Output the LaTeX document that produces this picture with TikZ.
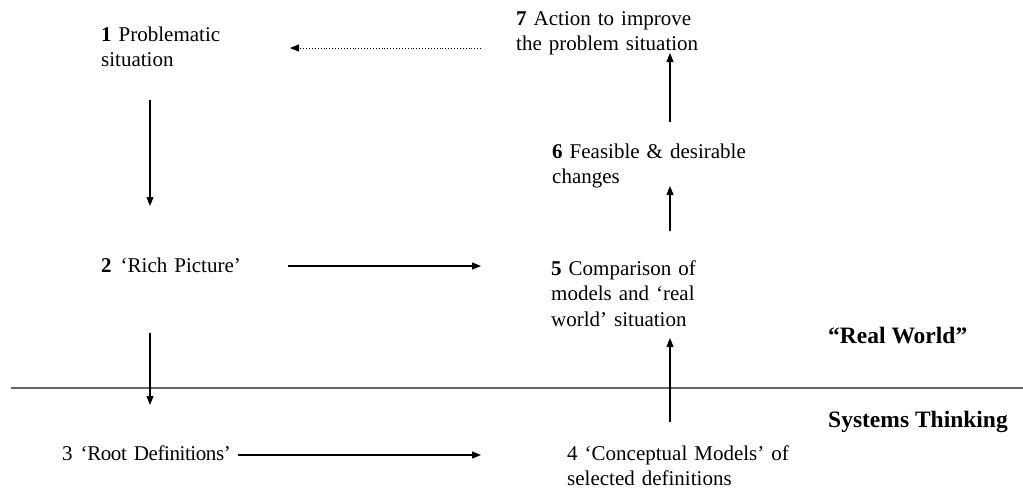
\documentclass[tikz,border=0pt]{standalone}
\usepackage{fontspec}
\setmainfont{Liberation Serif}
\usetikzlibrary{arrows.meta}
\begin{document}
\begin{tikzpicture}[x=1pt,y=-1pt,
  lbl/.style={anchor=base west,inner sep=0pt,text width=300pt,align=left,font=\fontsize{21}{25.5}\selectfont},
  side/.style={anchor=base west,inner sep=0pt,font=\fontsize{23.5}{28}\selectfont\bfseries},
  conn/.style={line width=1.2pt,-{Triangle[length=9pt,width=7pt]}},
  dconn/.style={line width=0.9pt,dotted,-{Triangle[length=9pt,width=7pt]}},
  divider/.style={line width=2pt,black!60}]
\useasboundingbox (0,0) rectangle (1023,499);
\node[lbl] (n1) at (101,41) {\textbf{1} Problematic\\situation};
\node[lbl] (n7) at (516,25) {\textbf{7} Action to improve\\the problem situation};
\node[lbl] (n6) at (552,158) {\textbf{6} Feasible \& desirable\\changes};
\node[lbl] (n2) at (101,272) {\textbf{2}\hspace{9pt}‘Rich Picture’};
\node[lbl] (n5) at (551,275) {\textbf{5} Comparison of\\models and ‘real\\world’ situation};
\node[side] (rw) at (828,343) {“Real World”};
\node[side] (st) at (828,427) {Systems Thinking};
\node[lbl] (n4) at (567,460) {4 ‘Conceptual Models’ of\\selected definitions};
\node[lbl] (n3) at (62,460) {{\addfontfeature{LetterSpace=-2}3\hspace{8pt}‘Root Definitions’}};
% divider
\coordinate (dl) at (11,388);
\coordinate (dr) at (1023,388);
\draw[divider] (dl) -- (dr);
% connector end points
\coordinate (a71) at (481,48);  \coordinate (b71) at (290,48);
\coordinate (a12) at (150,100); \coordinate (b12) at (150,206);
\coordinate (a23) at (150,333); \coordinate (b23) at (150,405);
\coordinate (a25) at (288,266); \coordinate (b25) at (481,266);
\coordinate (a34) at (238,455); \coordinate (b34) at (481,455);
\coordinate (a45) at (670,422); \coordinate (b45) at (670,338);
\coordinate (a56) at (670,231); \coordinate (b56) at (670,186);
\coordinate (a67) at (670,122); \coordinate (b67) at (670,53);
\draw[dconn] (a71) -- (b71);
\draw[conn] (a12) -- (b12);
\draw[conn] (a23) -- (b23);
\draw[conn] (a25) -- (b25);
\draw[conn] (a34) -- (b34);
\draw[conn] (a45) -- (b45);
\draw[conn] (a56) -- (b56);
\draw[conn] (a67) -- (b67);
\end{tikzpicture}
\end{document}
